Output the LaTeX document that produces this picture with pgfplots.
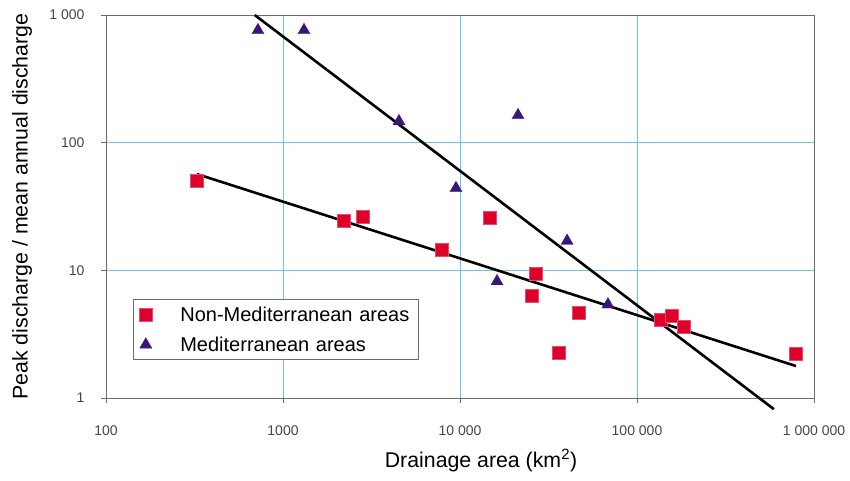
\documentclass[border=0pt]{standalone}
\usepackage{pgfplots}
\pgfplotsset{compat=1.18}
\usepackage{fontspec}
\setmainfont{Liberation Sans}
\definecolor{redsq}{RGB}{222,0,42}
\definecolor{purptri}{RGB}{58,22,122}
\definecolor{gridblue}{RGB}{110,195,235}
\definecolor{framegray}{RGB}{110,110,110}
\definecolor{ticktext}{RGB}{70,70,70}
\begin{document}
\begin{tikzpicture}
\path[use as bounding box] (-106pt,-83pt) rectangle (744pt,398pt);
\begin{axis}[
  at={(0pt,0pt)}, anchor=south west,
  scale only axis, width=708pt, height=383pt,
  xmode=log, ymode=log,
  xmin=100, xmax=1000000, ymin=1, ymax=1000,
  xtick={100,1000,10000,100000,1000000},
  xticklabels={100,1000,10~000,100~000,1~000~000},
  ytick={1,10,100,1000},
  yticklabels={1,10,100,1~000},
  xminorticks=false, yminorticks=false,
  tick align=outside, major tick length=5pt,
  xtick pos=bottom, ytick pos=left,
  tick style={framegray, line width=0.6pt},
  axis line style={framegray, line width=0.7pt},
  grid=major,
  major grid style={gridblue, line width=0.8pt},
  ticklabel style={font=\fontsize{14}{16}\selectfont, text=ticktext},
  /pgf/number format/assume math mode=true,
  xticklabel shift=19pt,
  yticklabel shift=13pt,
  xlabel={Drainage area (km\textsuperscript{2})},
  ylabel={Peak discharge / mean annual discharge},
  every axis x label/.style={at={(axis description cs:0.5,0)}, anchor=base, xshift=21pt, yshift=-69pt, font=\fontsize{21.3}{24}\selectfont},
  every axis y label/.style={at={(axis description cs:0,0.5)}, rotate=90, anchor=center, yshift=84pt, font=\fontsize{21.3}{24}\selectfont},
  clip=false,
  legend style={at={(0.0381,0.0992)}, anchor=south west, draw=framegray, line width=0.7pt,
    font=\fontsize{20}{23}\selectfont, row sep=10pt, inner xsep=6pt, inner ysep=5pt,
    /tikz/every odd column/.append style={column sep=26pt},
    /tikz/every even column/.append style={text width=230pt}},
  legend image code/.code={\draw[mark repeat=2,mark phase=2] plot coordinates {(0cm,0cm) (0.3cm,0cm) (0.6cm,0cm)};},
  legend cell align=left,
]
\addplot[only marks, mark=square*, mark size=6.5pt, mark options={fill=redsq, draw=redsq!70!white, line width=0.4pt}] coordinates {
 (326,50.1) (2213,24.3) (2831,26.1) (7910,14.4) (14770,25.7) (26860,9.36)
 (25500,6.3) (47000,4.63) (36250,2.25) (136700,4.08) (157800,4.39) (184500,3.6) (791000,2.21)
};
\addlegendentry{Non-Mediterranean areas}
\addplot[only marks, mark=triangle*, mark size=7pt, mark options={fill=purptri, draw=purptri, line width=0.3pt}] coordinates {
 (722,760) (1314,760) (4520,147) (21270,164) (9490,44) (40270,17) (16190,8.2) (68550,5.4)
};
\addlegendentry{Mediterranean areas}
\addplot[black, line width=2.6pt, forget plot] coordinates {(326,56.8) (791000,1.78)};
\addplot[black, line width=2.6pt, forget plot] coordinates {(692,1000) (593000,0.818)};
\end{axis}
\end{tikzpicture}
\end{document}
